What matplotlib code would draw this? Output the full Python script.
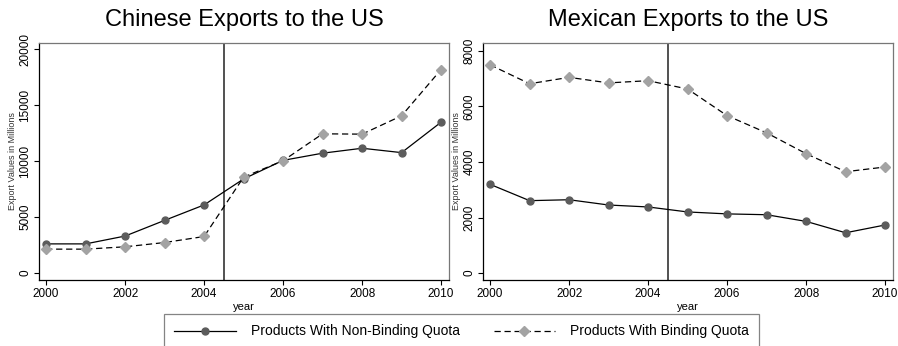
import matplotlib
matplotlib.use("Agg")
import matplotlib.pyplot as plt
from matplotlib.lines import Line2D

plt.rcParams['font.family'] = ['Liberation Sans', 'DejaVu Sans']

years = [2000, 2001, 2002, 2003, 2004, 2005, 2006, 2007, 2008, 2009, 2010]

# Chinese exports to the US (millions)
china_nonbinding = [2600, 2600, 3300, 4700, 6080, 8400, 10060, 10700, 11140, 10750, 13470]
china_binding = [2130, 2130, 2340, 2720, 3260, 8560, 10030, 12430, 12400, 14040, 18170]

# Mexican exports to the US (millions)
mexico_nonbinding = [3195, 2607, 2640, 2450, 2380, 2200, 2130, 2100, 1860, 1450, 1730]
mexico_binding = [7500, 6820, 7050, 6850, 6930, 6630, 5670, 5050, 4300, 3650, 3820]

titles = ["Chinese Exports to the US", "Mexican Exports to the US"]
xticks = [2000, 2002, 2004, 2006, 2008, 2010]
yticks_china = [0, 5000, 10000, 15000, 20000]
yticks_mexico = [0, 2000, 4000, 6000, 8000]
policy_year = 2004.5

W, H = 898, 346
fig = plt.figure(figsize=(W / 100, H / 100), dpi=100)

def make_axes(x0, x1, top, bottom):
    return fig.add_axes([x0 / W, 1 - bottom / H, (x1 - x0) / W, (bottom - top) / H])

axes = [make_axes(39, 449, 43, 280), make_axes(483, 893, 43, 280)]
panels = [
    (china_nonbinding, china_binding, yticks_china, (-625, 20540)),
    (mexico_nonbinding, mexico_binding, yticks_mexico, (-252, 8288)),
]

for ax, title, (nb, b, yt, ylim) in zip(axes, titles, panels):
    ax.plot(years, nb, color='black', lw=0.9, marker='o', ms=5,
            mfc='#5c5c5c', mec='#5c5c5c', zorder=3)
    ax.plot(years, b, color='black', lw=0.9, ls=(0, (5, 3)), marker='D', ms=5,
            mfc='#a3a3a3', mec='#a3a3a3', zorder=3)
    ax.axvline(policy_year, color='#333333', lw=1.2, zorder=2)
    ax.set_xlim(1999.82, 2010.2)
    ax.set_ylim(*ylim)
    ax.set_xticks(xticks)
    ax.set_yticks(yt)
    ax.tick_params(axis='both', direction='out', length=3.5, width=0.8,
                   labelsize=8.5, pad=2)
    for lbl in ax.get_yticklabels():
        lbl.set_rotation(90)
        lbl.set_va('center')
    ax.set_title(title, fontsize=17, pad=12)
    ax.set_xlabel("year", fontsize=8, labelpad=2)
    ax.set_ylabel("Export Values in Millions", fontsize=6.5, labelpad=2, color='#333333')
    for side in ['left', 'bottom']:
        ax.spines[side].set_color('black')
        ax.spines[side].set_linewidth(0.9)
    for side in ['top', 'right']:
        ax.spines[side].set_color('#777777')
        ax.spines[side].set_linewidth(0.9)

handles = [
    Line2D([], [], color='black', lw=0.9, marker='o', ms=5,
           mfc='#5c5c5c', mec='#5c5c5c'),
    Line2D([], [], color='black', lw=0.9, ls=(0, (5, 3)), marker='D', ms=5,
           mfc='#a3a3a3', mec='#a3a3a3'),
]
labels = ["Products With Non-Binding Quota", "Products With Binding Quota"]
leg = fig.legend(handles, labels, loc='upper center', ncol=2, numpoints=1,
                 bbox_to_anchor=(461.5 / W, 1 - 314 / H), fontsize=10,
                 frameon=True, fancybox=False, edgecolor='#666666',
                 handlelength=4.45, handletextpad=1.05, columnspacing=2.45,
                 borderpad=0.75, borderaxespad=0)
leg.get_frame().set_linewidth(0.9)

fig.savefig("out.png", dpi=100)
